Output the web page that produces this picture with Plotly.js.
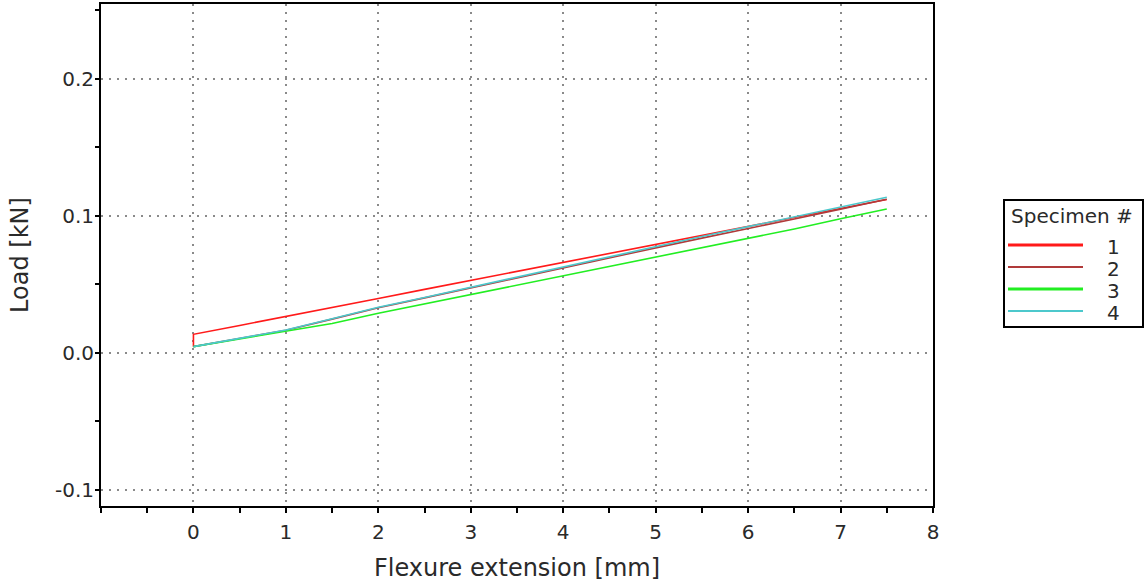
<!DOCTYPE html>
<html>
<head>
<meta charset="utf-8">
<script src="https://cdn.plot.ly/plotly-3.0.1.min.js"></script>
<style>
  html, body { margin: 0; padding: 0; background: #ffffff; }
  #chart { width: 1145px; height: 588px; }
</style>
</head>
<body>
<div id="chart"></div>
<script>
// Flexure test: load vs. extension for four specimens
const specimenNames = ['1', '2', '3', '4'];
const specimenColors = ['#ff1a1a', '#b03a3a', '#22ee22', '#4cc8cc'];
const legendLineWidths = [3, 2, 3, 2];

const ext1 = [0, 0, 0.5, 1, 1.5, 2, 2.5, 3, 3.5, 4, 4.5, 5, 5.5, 6, 6.5, 7, 7.5];
const load1 = [0.0046, 0.0136, 0.0201, 0.0265, 0.0333, 0.0398, 0.0464, 0.0530, 0.0595, 0.0660, 0.0727, 0.0792, 0.0858, 0.0922, 0.0988, 0.1054, 0.1120];

const ext2 = [0, 0.5, 1, 1.5, 2, 2.5, 3, 3.5, 4, 4.5, 5, 5.5, 6, 6.5, 7, 7.5];
const load2 = [0.0046, 0.0104, 0.0166, 0.0247, 0.0330, 0.0402, 0.0476, 0.0549, 0.0622, 0.0694, 0.0767, 0.0838, 0.0906, 0.0978, 0.1050, 0.1122];

const ext3 = [0, 0.5, 1, 1.5, 2, 2.5, 3, 3.5, 4, 4.5, 5, 5.5, 6, 6.5, 7, 7.5];
const load3 = [0.0046, 0.0102, 0.0158, 0.0215, 0.0290, 0.0358, 0.0426, 0.0494, 0.0562, 0.0629, 0.0697, 0.0765, 0.0832, 0.0905, 0.0980, 0.1051];

const ext4 = [0, 0.5, 1, 1.5, 2, 2.5, 3, 3.5, 4, 4.5, 5, 5.5, 6, 6.5, 7, 7.5];
const load4 = [0.0046, 0.0105, 0.0168, 0.0250, 0.0333, 0.0405, 0.0480, 0.0553, 0.0627, 0.0700, 0.0775, 0.0850, 0.0922, 0.0993, 0.1063, 0.1136];

const xTickVals = [0, 1, 2, 3, 4, 5, 6, 7, 8];
const yTickVals = [-0.1, 0.0, 0.1, 0.2];
const yTickText = ['-0.1', '0.0', '0.1', '0.2'];

const FONT = 'DejaVu Sans, Verdana, sans-serif';
const TEXT_COLOR = '#2a2a2a';
const W = 1145, H = 588;
const M = { l: 101, r: 212, t: 4, b: 82 };

// convert figure pixels to paper coordinates (for the legend box)
const px = v => (v - M.l) / (W - M.l - M.r);
const py = v => (H - M.b - v) / (H - M.t - M.b);

const series = [[ext1, load1], [ext2, load2], [ext3, load3], [ext4, load4]];
const traces = series.map((s, i) => ({
  type: 'scatter',
  mode: 'lines',
  x: s[0],
  y: s[1],
  name: specimenNames[i],
  line: { color: specimenColors[i], width: 1.6 },
  showlegend: false,
  hoverinfo: 'x+y+name'
}));

// legend drawn as a framed box with line samples
const shapes = [{
  type: 'rect', xref: 'paper', yref: 'paper',
  x0: px(1004), x1: px(1143), y0: py(200), y1: py(327),
  line: { color: '#000', width: 2 }, fillcolor: 'rgba(0,0,0,0)'
}];
const annotations = [{
  xref: 'paper', yref: 'paper', x: px(1072), y: py(216),
  text: 'Specimen #', showarrow: false, xanchor: 'center', yanchor: 'middle',
  font: { family: FONT, size: 20, color: TEXT_COLOR }
}];
const rowY = [245, 267, 289, 311];
specimenNames.forEach((n, i) => {
  shapes.push({
    type: 'line', xref: 'paper', yref: 'paper',
    x0: px(1008), x1: px(1083), y0: py(rowY[i]), y1: py(rowY[i]),
    line: { color: specimenColors[i], width: legendLineWidths[i] }
  });
  annotations.push({
    xref: 'paper', yref: 'paper', x: px(1113), y: py(rowY[i] + 2),
    text: n, showarrow: false, xanchor: 'center', yanchor: 'middle',
    font: { family: FONT, size: 20, color: TEXT_COLOR }
  });
});

const layout = {
  width: W, height: H,
  margin: M,
  paper_bgcolor: '#ffffff',
  plot_bgcolor: '#ffffff',
  font: { family: FONT, size: 20, color: TEXT_COLOR },
  showlegend: false,
  xaxis: {
    range: [-1, 8],
    tickmode: 'array', tickvals: xTickVals,
    ticks: 'outside', ticklen: 5, tickwidth: 2, tickcolor: '#000',
    minor: { tickmode: 'linear', tick0: -1, dtick: 0.5, ticks: 'outside', ticklen: 5, tickwidth: 2, tickcolor: '#000', showgrid: false },
    showline: true, linecolor: '#000', linewidth: 2, mirror: true,
    showgrid: true, gridcolor: '#8a8a8a', gridwidth: 2, griddash: '2px,6px',
    zeroline: false,
    tickfont: { family: FONT, size: 20, color: TEXT_COLOR },
    ticklabelstandoff: 2,
    title: { text: 'Flexure extension [mm]', font: { family: FONT, size: 24, color: TEXT_COLOR }, standoff: 16 }
  },
  yaxis: {
    range: [-0.1117, 0.2547],
    tickmode: 'array', tickvals: yTickVals, ticktext: yTickText,
    ticks: 'outside', ticklen: 4, tickwidth: 2, tickcolor: '#000',
    minor: { tickmode: 'linear', tick0: 0, dtick: 0.05, ticks: 'outside', ticklen: 4, tickwidth: 2, tickcolor: '#000', showgrid: false },
    showline: true, linecolor: '#000', linewidth: 2, mirror: true,
    showgrid: true, gridcolor: '#8a8a8a', gridwidth: 2, griddash: '2px,6px',
    zeroline: false,
    tickfont: { family: FONT, size: 20, color: TEXT_COLOR },
    ticklabelstandoff: -3,
    title: { text: 'Load [kN]', font: { family: FONT, size: 24, color: TEXT_COLOR }, standoff: 20 }
  },
  shapes: shapes,
  annotations: annotations
};

Plotly.newPlot('chart', traces, layout, { displayModeBar: false });
</script>
</body>
</html>
